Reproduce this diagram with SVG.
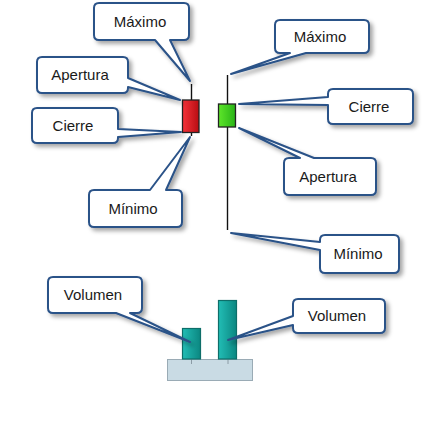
<svg xmlns="http://www.w3.org/2000/svg" width="428" height="426" viewBox="0 0 428 426">
<defs>
<style>
.co{fill:#fff;stroke:#2b5288;stroke-width:2;stroke-linejoin:round;filter:url(#sh)}
.lb{font-family:"Liberation Sans",Arial,sans-serif;font-size:15px;fill:#1a1a1a;text-anchor:middle}
.wick{stroke:#111;stroke-width:1.4}
.tick{stroke:#8c9ca6;stroke-width:1}
</style>
<filter id="sh" x="-20%" y="-20%" width="150%" height="150%">
<feDropShadow dx="3" dy="3" stdDeviation="2" flood-color="#000" flood-opacity="0.35"/>
</filter>
<linearGradient id="red" x1="0" y1="0" x2="1" y2="0"><stop offset="0" stop-color="#f5333a"/><stop offset="1" stop-color="#b80d12"/></linearGradient>
<linearGradient id="green" x1="0" y1="0" x2="1" y2="0"><stop offset="0" stop-color="#5ee62a"/><stop offset="1" stop-color="#28b317"/></linearGradient>
<linearGradient id="teal" x1="0" y1="0" x2="1" y2="0"><stop offset="0" stop-color="#22bdb5"/><stop offset="1" stop-color="#0b8781"/></linearGradient>
</defs>
<rect width="428" height="426" fill="#fff"/>

<g id="candle-bear">
<line class="wick" x1="191.5" y1="84" x2="191.5" y2="136"/>
<rect x="182.5" y="100" width="16.5" height="32.5" fill="url(#red)" stroke="#222" stroke-width="1.3"/>
</g>
<g id="candle-bull">
<line class="wick" x1="227.5" y1="75" x2="227.5" y2="230"/>
<rect x="218.5" y="104" width="17" height="23" fill="url(#green)" stroke="#222" stroke-width="1.3"/>
</g>
<g id="volume">
<rect x="167.5" y="359.5" width="85" height="21" fill="#c9dbe4" stroke="#9aabb5" stroke-width="1"/>
<line class="tick" x1="191.5" y1="359" x2="191.5" y2="364"/>
<line class="tick" x1="228" y1="359" x2="228" y2="364"/>
<rect x="182.5" y="328.5" width="18" height="30.5" fill="url(#teal)" stroke="#0e6e69" stroke-width="1.2"/>
<rect x="218.5" y="300.5" width="18" height="58.5" fill="url(#teal)" stroke="#0e6e69" stroke-width="1.2"/>
</g>

<g id="connectors"></g>

<g id="maximo-left">
<path class="co" d="M99,3 H184 Q189,3 189,8 V35 Q189,40 184,40 H170 L190,81 L155,40 H99 Q94,40 94,35 V8 Q94,3 99,3 Z"/>
<text class="lb" x="140" y="27">Máximo</text>
</g>
<g id="apertura-left">
<path class="co" d="M42,57 H123 Q128,57 128,62 V78 L180,100 L128,87 V88 Q128,93 123,93 H42 Q37,93 37,88 V62 Q37,57 42,57 Z"/>
<text class="lb" x="80" y="80">Apertura</text>
</g>
<g id="cierre-left">
<path class="co" d="M37,108 H113 Q118,108 118,113 V129 L181,132 L118,137 V138 Q118,143 113,143 H37 Q32,143 32,138 V113 Q32,108 37,108 Z"/>
<text class="lb" x="73" y="131">Cierre</text>
</g>
<g id="minimo-left">
<path class="co" d="M94,190 H150 L190,137 L166,190 H177 Q182,190 182,195 V222 Q182,227 177,227 H94 Q89,227 89,222 V195 Q89,190 94,190 Z"/>
<text class="lb" x="133" y="214">Mínimo</text>
</g>
<g id="maximo-right">
<path class="co" d="M280,20 H364 Q369,20 369,25 V48 Q369,53 364,53 H306 L231,74 L290,53 H280 Q275,53 275,48 V25 Q275,20 280,20 Z"/>
<text class="lb" x="320" y="42">Máximo</text>
</g>
<g id="cierre-right">
<path class="co" d="M333,89 H408 Q413,89 413,94 V119 Q413,124 408,124 H333 Q328,124 328,119 V105 L239,104 L328,97 V94 Q328,89 333,89 Z"/>
<text class="lb" x="369" y="112">Cierre</text>
</g>
<g id="apertura-right">
<path class="co" d="M289,158 H300 L239,128 L314,158 H371 Q376,158 376,163 V190 Q376,195 371,195 H289 Q284,195 284,190 V163 Q284,158 289,158 Z"/>
<text class="lb" x="328" y="182">Apertura</text>
</g>
<g id="minimo-right">
<path class="co" d="M325,235 H394 Q399,235 399,240 V268 Q399,273 394,273 H325 Q320,273 320,268 V250 L231,233 L320,242 V240 Q320,235 325,235 Z"/>
<text class="lb" x="358" y="259">Mínimo</text>
</g>
<g id="volumen-left">
<path class="co" d="M53,277 H137 Q142,277 142,282 V308 Q142,313 137,313 H130 L190,342 L116,313 H53 Q48,313 48,308 V282 Q48,277 53,277 Z"/>
<text class="lb" x="93" y="300">Volumen</text>
</g>
<g id="volumen-right">
<path class="co" d="M298,299 H380 Q385,299 385,304 V328 Q385,333 380,333 H298 Q293,333 293,328 V325 L228,340 L293,316 V304 Q293,299 298,299 Z"/>
<text class="lb" x="337" y="321">Volumen</text>
</g>
</svg>
